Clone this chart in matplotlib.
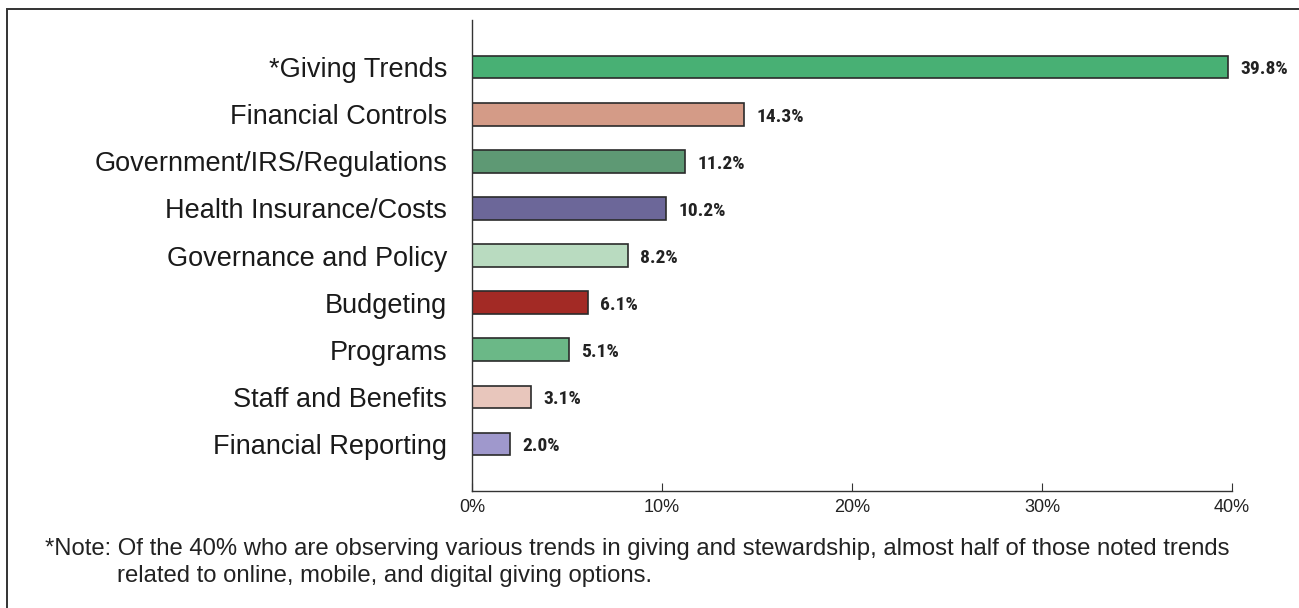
import matplotlib.pyplot as plt
from matplotlib.patches import Rectangle

categories = ['*Giving Trends', 'Financial Controls', 'Government/IRS/Regulations',
              'Health Insurance/Costs', 'Governance and Policy', 'Budgeting',
              'Programs', 'Staff and Benefits', 'Financial Reporting']
values = [39.8, 14.3, 11.2, 10.2, 8.2, 6.1, 5.1, 3.1, 2.0]
colors = ['#48B074', '#D49B87', '#5E9974', '#6C6799', '#B9DBC0',
          '#A32A25', '#6BB887', '#E8C6BC', '#9F98CC']
xticks = [0, 10, 20, 30, 40]
note_line1 = ('*Note: Of the 40% who are observing various trends in giving and stewardship, '
              'almost half of those noted trends')
note_line2 = 'related to online, mobile, and digital giving options.'

sans = ['Liberation Sans', 'DejaVu Sans']
narrow = ['Roboto Condensed', 'Roboto', 'DejaVu Sans']

fig = plt.figure(figsize=(12.99, 6.08), dpi=100)
ax = fig.add_axes([0.3634, 0.1924, 0.585, 0.7747])

# outer frame, only top and left edges fall inside the image
fig.patches.append(Rectangle((7 / 1299, -0.1), 1.2, 1.1 - 9 / 608,
                             transform=fig.transFigure, fill=False,
                             edgecolor='#333333', linewidth=1.4))

pos = list(range(len(categories)))
ax.barh(pos, values, height=0.48, color=colors, edgecolor='#2b2b2b', linewidth=1.2)

for p, v in zip(pos, values):
    ax.text(v + 0.65, p + 0.05, f'{v:.1f}%', va='center', ha='left',
            fontsize=14, fontweight='bold', family=narrow, color='#222222')

ax.set_xlim(0, 40)
ax.set_ylim(len(categories), -1)
ax.set_xticks(xticks)
ax.set_xticklabels([f'{t}%' for t in xticks], family=sans, fontsize=13, color='#222222')
ax.set_yticks(pos)
ax.set_yticklabels(categories, family=sans, fontsize=19.5, color='#1a1a1a')
ax.tick_params(axis='y', length=0, pad=18)
ax.tick_params(axis='x', direction='in', length=6, width=0.8, color='#333333', pad=6)

for s in ['top', 'right']:
    ax.spines[s].set_visible(False)
for s in ['left', 'bottom']:
    ax.spines[s].set_color('#333333')
    ax.spines[s].set_linewidth(1.0)

fig.text(45 / 1299, 1 - 555 / 608, note_line1, family=sans, fontsize=17.2,
         color='#222222', va='baseline', ha='left')
fig.text(117 / 1299, 1 - 582 / 608, note_line2, family=sans, fontsize=17.2,
         color='#222222', va='baseline', ha='left')

fig.savefig('out.png', dpi=100)
